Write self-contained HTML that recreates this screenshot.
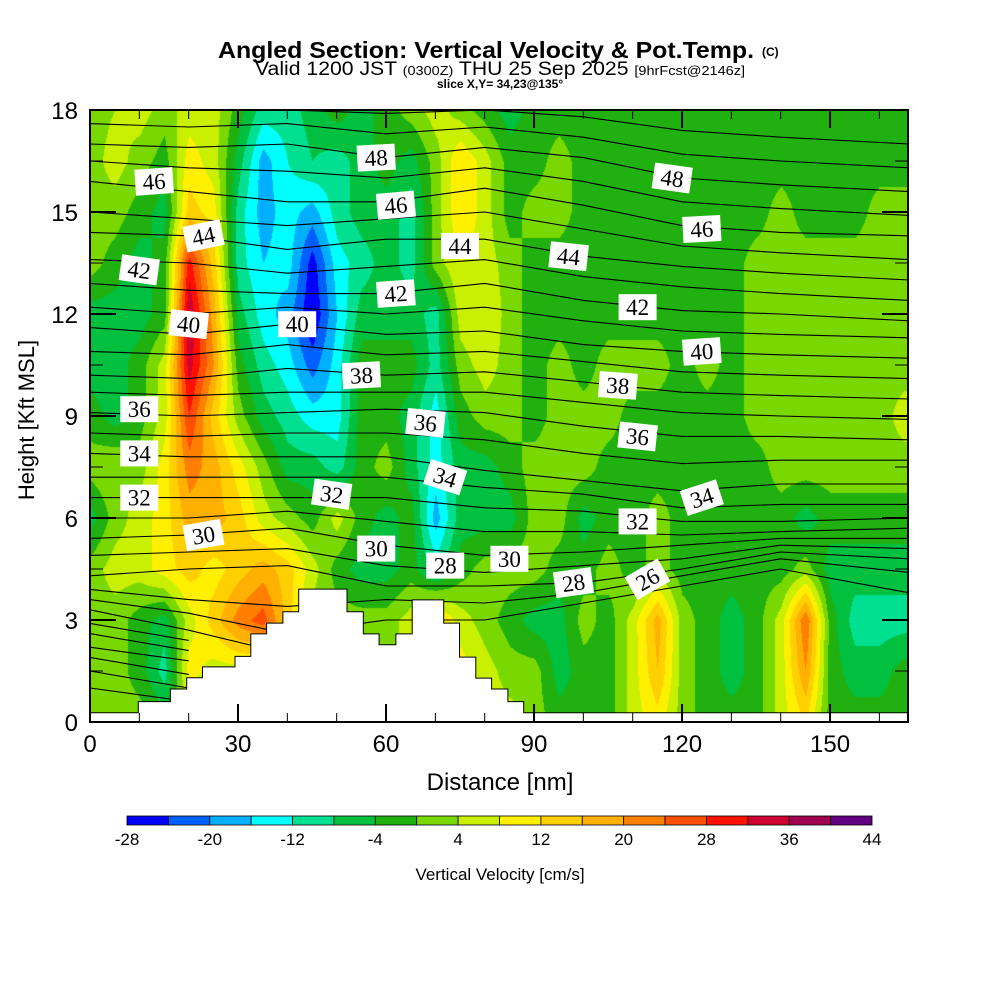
<!DOCTYPE html>
<html><head><meta charset="utf-8"><style>
html,body{margin:0;padding:0;background:#fff}
#wrap{position:relative;width:1000px;height:1000px;overflow:hidden;background:#fff}
#cv{position:absolute;left:90px;top:110px}
svg{position:absolute;left:0;top:0}
text{font-family:"Liberation Sans",sans-serif}
</style></head><body>
<div id="wrap">
<canvas id="cv" width="818" height="612"></canvas>
<svg id="sv" width="1000" height="1000">
<g>
<text x="218" y="58" font-size="23" font-weight="bold" textLength="536" lengthAdjust="spacingAndGlyphs">Angled Section: Vertical Velocity &amp; Pot.Temp.</text>
<text x="762" y="56" font-size="12" font-weight="bold">(C)</text>
<text x="255" y="75" font-size="19" textLength="490" lengthAdjust="spacingAndGlyphs">Valid 1200 JST <tspan font-size="13">(0300Z)</tspan> THU 25 Sep 2025 <tspan font-size="13">[9hrFcst@2146z]</tspan></text>
<text x="500" y="88" font-size="12" font-weight="bold" text-anchor="middle">slice X,Y= 34,23@135°</text>
</g>
<g id="contours"></g>
<g id="terrain"></g>
<g id="labels"></g>
<g id="axes"></g>
<text x="500" y="790" font-size="24" text-anchor="middle">Distance [nm]</text>
<text transform="translate(34,420) rotate(-90)" font-size="22" text-anchor="middle">Height [Kft MSL]</text>
<g id="cbar"></g>
<text x="500" y="880" font-size="17" text-anchor="middle">Vertical Velocity [cm/s]</text>
</svg>
</div>
<script>
// ---- data ----
const gridX = [0,5,10,15,20,25,30,35,40,45,50,55,60,65,70,75,80,85,90,95,100,105,110,115,120,125,130,135,140,145,150,155,160,165];
const gridH = [18,16.5,15,13.5,12,10.5,9,7.5,6,4.5,3,1.5,0];
const w18  = [2,4,6,2,6,6,-2,-10,-10,-6,-2,-6,-2,2,6,2,-2,-6,-2,-2,-2,-2,-2,-2,-2,-2,-2,-2,-2,-2,-2,-2,-2,-2];
const w165 = [2,6,2,-2,10,6,-6,-18,-12,-8,-10,-6,-2,-6,2,12,6,-2,-2,2,-2,-2,-2,-2,-2,-2,-2,-2,-2,-2,-2,-2,-2,-2];
const w15  = [2,2,-2,-6,14,10,-10,-18,-14,-18,-10,-6,-6,-10,2,12,6,-2,2,2,-2,-2,-2,-2,-2,-2,-2,-2,2,-2,-2,-2,2,2];
const w135 = [2,-2,-6,-2,30,14,-10,-16,-14,-26,-14,-10,-6,-10,2,8,6,2,-2,-2,-2,-2,-2,-2,-2,-2,-2,2,2,2,2,2,2,2];
const w12  = [-6,-6,-6,-2,36,18,-6,-14,-18,-28,-16,-6,-6,-6,-10,6,8,2,-2,-2,-2,-2,-2,-2,-2,-2,-2,2,2,2,2,2,2,2];
const w105 = [-6,-6,-2,6,34,20,-2,-10,-14,-22,-14,-2,-2,-2,-10,2,6,2,-2,2,-2,2,2,2,-2,2,-2,2,2,2,2,2,2,2];
const w9   = [-2,-6,-2,6,28,14,2,-6,-10,-14,-14,-2,-2,-6,-14,-2,2,2,-2,2,2,2,-2,-2,-2,-2,-2,2,2,2,2,2,2,6];
const w75  = [2,4,2,10,22,18,10,2,-6,-6,-10,-2,2,-6,-14,-6,-6,-2,2,2,2,-2,-2,-2,-2,-2,-2,-2,2,2,2,2,2,2];
const w6   = [-6,2,6,10,18,18,14,6,2,-2,6,-2,-6,-2,-18,-6,-6,-6,2,2,-6,-2,-2,2,-2,-2,-2,-2,-2,-6,-2,-2,-2,-2];
const w45  = [2,6,6,10,14,10,14,18,14,6,-2,-6,-6,-2,-10,-2,2,2,2,-2,-2,2,-2,2,-2,-2,-2,-2,-2,2,-6,-6,-6,-6];
const w3   = [2,2,-2,-6,6,14,22,26,14,2,2,2,2,6,14,6,2,-2,-6,-6,2,-2,6,18,2,-2,-6,-2,6,24,-2,-10,-10,-10];
const w15b = [2,2,-2,-10,10,6,6,6,6,2,2,2,2,6,10,10,6,2,2,-6,-2,-2,6,16,2,-2,-6,-2,6,20,-2,-6,-6,-2];
const w0   = [2,2,2,-2,2,2,2,2,2,2,2,2,2,2,2,6,6,6,2,-2,-2,-2,6,10,2,-2,-2,-2,6,12,-2,-2,-2,-2];
const wRows = [w18,w165,w15,w135,w12,w105,w9,w75,w6,w45,w3,w15b,w0];

const binEdges = [-28,-24,-20,-16,-12,-8,-4,0,4,8,12,16,20,24,28,32,36,40,44];
const binColors = ["#0000ff","#0060ff","#00b0ff","#00ffff","#00e090","#00c040","#20b010","#78d800","#c8f000","#fff000","#ffd000","#ffb000","#ff8000","#ff5000","#ff1000","#d00030","#a00050","#600080"];
const cbarLabels = [-28,-20,-12,-4,4,12,20,28,36,44];

const thetaX = [0,20,40,60,80,100,120,140,166];
const thetaLevels = [19,20,21,22,23,24,25,26,27,28,29,30,31,32,33,34,35,36,37,38,39,40,41,42,43,44,45,46,47,48,49,50];
const N = null;
const thetaH = [
 [1.0,0.6,N,N,N,N,N,N,N],
 [1.5,1.0,N,N,N,N,N,N,N],
 [1.9,1.4,N,N,N,N,N,N,N],
 [2.2,1.8,N,N,N,N,N,N,N],
 [2.6,2.1,N,N,N,N,N,N,N],
 [2.9,2.4,N,N,N,N,N,N,N],
 [3.3,2.7,2.0,N,N,N,N,N,N],
 [3.6,3.2,2.6,3.0,3.0,3.5,4.0,4.5,3.8],
 [3.9,3.6,3.4,3.6,3.5,3.8,4.3,4.8,4.4],
 [4.3,4.5,4.6,4.0,4.0,4.1,4.5,5.0,4.8],
 [4.9,5.0,5.1,4.6,4.4,4.6,4.8,5.2,5.1],
 [5.4,5.5,5.7,5.2,4.9,5.0,5.2,5.4,5.4],
 [6.0,6.0,6.2,5.9,5.6,5.6,5.5,5.6,5.7],
 [6.6,6.6,6.6,6.6,6.3,6.2,5.9,5.9,6.0],
 [7.2,7.2,7.2,7.2,6.9,6.7,6.3,6.4,6.4],
 [7.9,7.8,7.8,7.8,7.4,7.1,6.8,7.0,7.0],
 [8.5,8.4,8.5,8.5,8.3,7.9,7.6,7.7,7.7],
 [9.1,9.0,9.1,9.2,9.1,8.7,8.4,8.4,8.3],
 [9.7,9.6,9.7,9.7,9.7,9.4,9.1,9.0,8.9],
 [10.2,10.1,10.4,10.2,10.3,10.0,9.7,9.6,9.5],
 [10.9,10.8,11.1,10.8,10.9,10.6,10.3,10.2,10.1],
 [11.6,11.4,11.7,11.4,11.5,11.1,10.9,10.8,10.7],
 [12.2,12.0,12.2,12.0,12.2,11.8,11.5,11.4,11.3],
 [12.9,12.7,12.6,12.6,12.9,12.4,12.1,12.0,11.8],
 [13.6,13.5,13.2,13.4,13.6,13.1,12.8,12.6,12.4],
 [14.4,14.3,13.9,14.2,14.2,13.7,13.4,13.2,13.0],
 [15.0,14.8,14.6,14.8,15.0,14.5,14.0,13.8,13.6],
 [15.9,15.6,15.3,15.3,15.7,15.2,14.6,14.4,14.3],
 [16.5,16.3,16.2,16.0,16.3,15.9,15.3,15.1,14.9],
 [17.0,16.9,17.0,16.6,16.9,16.6,16.0,15.8,15.6],
 [17.6,17.5,17.6,17.3,17.5,17.2,16.7,16.5,16.3],
 [18.2,18.1,18.2,17.9,18.1,17.8,17.4,17.2,17.0]
];
const terrainX = [0,9.8,16.3,19.6,22.8,29.4,32.6,35.8,39.1,42.3,52.1,55.4,58.6,62.0,65.3,71.7,74.9,78.2,81.4,84.7,87.9,166];
const terrainH = [0.27,0.6,0.97,1.3,1.62,1.93,2.59,2.91,3.24,3.91,3.24,2.59,2.27,2.59,3.59,2.91,1.91,1.29,0.97,0.6,0.27,0.27];
const labelText = ["46","44","42","40","36","34","32","30","48","46","42","40","38","36","34","32","30","28","44","30","44","48","46","42","40","38","36","34","32","28","26"];
const labelX = [13,23,10,20,10,10,10,23,58,62,62,42,55,68,72,49,58,72,75,85,97,118,124,111,124,107,111,124,111,98,113];
const labelH = [15.9,14.3,13.3,11.7,9.2,7.9,6.6,5.5,16.6,15.2,12.6,11.7,10.2,8.8,7.2,6.7,5.1,4.6,14.0,4.8,13.7,16.0,14.5,12.2,10.9,9.9,8.4,6.6,5.9,4.1,4.2];
const labelRot = [-4,-12,8,6,0,0,0,-10,-3,-5,-4,0,-3,6,18,8,0,0,0,0,6,8,-3,0,-4,4,6,-18,0,-8,-30];

// ---- scales ----
const PX0=90, PY0=110, PW=818, PH=612, XMAX=165.8, HMAX=18;
const sx = v => PX0 + v/XMAX*PW;
const sy = h => PY0 + PH - h/HMAX*PH;
const NS='http://www.w3.org/2000/svg';
function mk(tag, attrs, parent){const e=document.createElementNS(NS,tag);for(const k in attrs)e.setAttribute(k,attrs[k]);parent.appendChild(e);return e;}
function hex(c){return [parseInt(c.substr(1,2),16),parseInt(c.substr(3,2),16),parseInt(c.substr(5,2),16)];}

// ---- field ----
const cv=document.getElementById('cv'), ctx=cv.getContext('2d');
const img=ctx.createImageData(PW,PH);
const rgb=binColors.map(hex);
function valAt(x,h){
  let i=Math.min(gridX.length-2,Math.max(0,Math.floor(x/5)));
  let tx=Math.min(1,Math.max(0,(x-gridX[i])/5));
  let r=(HMAX-h)/1.5; let j=Math.min(gridH.length-2,Math.max(0,Math.floor(r))); let ty=Math.min(1,Math.max(0,r-j));
  const a=wRows[j][i],b=wRows[j][i+1],c=wRows[j+1][i],d=wRows[j+1][i+1];
  return (a*(1-tx)+b*tx)*(1-ty)+(c*(1-tx)+d*tx)*ty;
}
for(let py=0;py<PH;py++){const h=(PH-py)/PH*HMAX;for(let px=0;px<PW;px++){const x=px/PW*XMAX;const v=valAt(x,h);
  let k=0;while(k<binColors.length-1&&v>=binEdges[k+1])k++;const o=(py*PW+px)*4;img.data[o]=rgb[k][0];img.data[o+1]=rgb[k][1];img.data[o+2]=rgb[k][2];img.data[o+3]=255;}}
ctx.putImageData(img,0,0);

// ---- contours ----
const cg=document.getElementById('contours');
thetaLevels.forEach((lev,li)=>{
  const pts=[];
  thetaX.forEach((x,k)=>{const h=thetaH[li][k]; if(h!==null) pts.push(sx(x).toFixed(1)+','+Math.max(PY0,Math.min(PY0+PH,sy(h))).toFixed(1));});
  if(pts.length<2) return;
  const p=mk('polyline',{points:pts.join(' '),fill:'none',stroke:'#000','stroke-width':1.1},cg);
  
  
});

// ---- terrain ----
const tg=document.getElementById('terrain');
let tp='M'+sx(0)+','+sy(0);
terrainX.forEach((x,i)=>{const xe=i<terrainX.length-1?terrainX[i+1]:XMAX; tp+=' L'+sx(x).toFixed(1)+','+sy(terrainH[i]).toFixed(1)+' L'+sx(xe).toFixed(1)+','+sy(terrainH[i]).toFixed(1);});
tp+=' L'+sx(XMAX)+','+sy(0)+' Z';
const tpath=mk('path',{d:tp,fill:'#fff',stroke:'#000','stroke-width':1},tg);



// ---- labels ----
const lg=document.getElementById('labels');
labelText.forEach((t,i)=>{
  const g=mk('g',{transform:'translate('+sx(labelX[i]).toFixed(1)+','+sy(labelH[i]).toFixed(1)+') rotate('+labelRot[i]+')'},lg);
  
  
  mk('rect',{x:-19,y:-13,width:38,height:26,fill:'#fff'},g);
  const tx=mk('text',{x:0,y:8,'font-size':23,'text-anchor':'middle',style:'font-family:"Liberation Serif",serif'},g);
  tx.textContent=t;
});

// ---- axes ----
const ag=document.getElementById('axes');
mk('rect',{x:PX0,y:PY0,width:PW,height:PH,fill:'none',stroke:'#000','stroke-width':2},ag);
const xTicks=[0,30,60,90,120,150];
for(let v=0;v<=160;v+=10){const maj=v%30===0;const L=maj?18:9;
  mk('line',{x1:sx(v),y1:PY0+PH,x2:sx(v),y2:PY0+PH-L,stroke:'#000','stroke-width':maj?2:1},ag);
  mk('line',{x1:sx(v),y1:PY0,x2:sx(v),y2:PY0+L,stroke:'#000','stroke-width':maj?2:1},ag);}
xTicks.forEach(v=>{const t=mk('text',{x:sx(v),y:752,'font-size':24,'text-anchor':'middle'},ag);t.textContent=v;
  
  });
const yTicks=[0,3,6,9,12,15,18];
for(let h=0;h<=18;h+=1.5){const maj=h%3===0;const L=maj?26:13;
  mk('line',{x1:PX0,y1:sy(h),x2:PX0+L,y2:sy(h),stroke:'#000','stroke-width':maj?2:1},ag);
  mk('line',{x1:PX0+PW,y1:sy(h),x2:PX0+PW-L,y2:sy(h),stroke:'#000','stroke-width':maj?2:1},ag);}
yTicks.forEach(h=>{const t=mk('text',{x:78,y:sy(h)+9,'font-size':24,'text-anchor':'end'},ag);t.textContent=h;
  
  });

// ---- colorbar ----
const bg=document.getElementById('cbar');
const CB0=127,CB1=872,bw=(CB1-CB0)/binColors.length;
binColors.forEach((c,i)=>{const r=mk('rect',{x:CB0+i*bw,y:816,width:bw,height:9,fill:c,stroke:'#000','stroke-width':0.8},bg);
  
  });
cbarLabels.forEach(v=>{const i=binEdges.indexOf(v);const t=mk('text',{x:CB0+i*bw,y:845,'font-size':17,'text-anchor':'middle'},bg);t.textContent=v;
  
  });
</script>
</body></html>
